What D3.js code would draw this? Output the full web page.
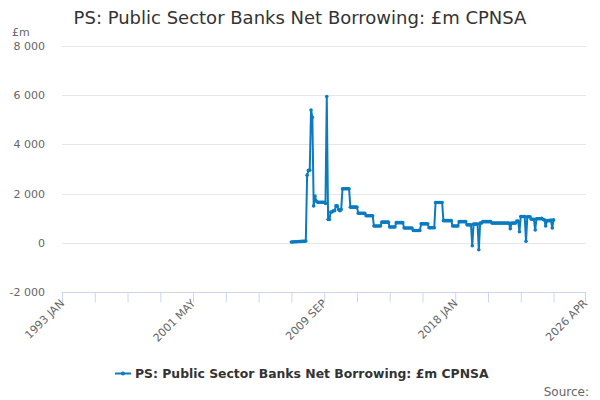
<!DOCTYPE html>
<html><head><meta charset="utf-8">
<script src="https://cdn.jsdelivr.net/npm/d3@7"></script>
<style>body{margin:0;background:#fff}svg{display:block}text{font-family:"DejaVu Sans",sans-serif}</style>
</head><body><svg id="c" width="600" height="400"></svg>
<script>
const title = "PS: Public Sector Banks Net Borrowing: £m CPNSA";
const seriesName = "PS: Public Sector Banks Net Borrowing: £m CPNSA";
const axisStart = {year: 1993, month: 0};   // 1993 JAN
const axisMonths = 399;                       // to 2026 APR
const dataStart = {year: 2007, month: 7};    // 2007 AUG
const monthNames = ["JAN","FEB","MAR","APR","MAY","JUN","JUL","AUG","SEP","OCT","NOV","DEC"];
const yTicks = [-2000, 0, 2000, 4000, 6000, 8000];
const xLabelIdx = [0, 100, 200, 300, 399];
const values = [
 30,30,40,40,40,50,50,50,60,60,60,70,
 2750,2950,2950,5400,5100,1500,1900,1700,
 1650,1650,1650,1650,1650,1650,1600,5950,950,950,
 1250,1250,1300,1300,1500,1500,1350,1300,1350,
 2200,2200,2200,2200,2200,2200,
 1450,1450,1450,1450,1450,1450,
 1200,1200,1200,1200,1200,1200,
 1100,1100,1100,1100,1100,1100,
 680,680,680,680,680,680,
 840,840,840,840,840,840,
 640,640,640,640,640,
 820,820,820,820,820,820,
 600,600,600,600,600,600,600,
 500,500,500,500,500,500,
 770,770,770,770,770,770,
 610,610,610,610,610,
 1640,1640,1640,1640,1640,1640,
 900,900,900,900,900,900,900,
 680,680,680,680,680,
 860,860,860,860,860,860,
 730,730,730,730,
 -120,
 760,760,760,760,
 -280,
 800,800,
 860,860,860,860,860,860,860,
 800,800,800,800,800,800,800,800,800,800,800,800,800,800,
 570,
 800,800,800,800,
 880,880,
 450,
 1070,1070,1070,1070,
 60,
 1060,1060,1060,
 960,960,960,
 520,
 980,980,980,980,
 1000,950,930,680,900,900,900,920,600,930
];

const svg = d3.select("#c");
const pLeft = 62, pRight = 585, pTop = 46, pBottom = 292;
const x = d3.scaleLinear().domain([0, axisMonths]).range([pLeft, pRight]);
const y = d3.scaleLinear().domain([-2000, 8000]).range([pBottom, pTop]);
const startIdx = (dataStart.year - axisStart.year) * 12 + (dataStart.month - axisStart.month);
const data = values.map((v, i) => ({i: startIdx + i, v}));
const labelOf = i => { const m = axisStart.month + i; return (axisStart.year + Math.floor(m / 12)) + " " + monthNames[m % 12]; };

svg.append("text").attr("x", 300).attr("y", 24).attr("text-anchor", "middle")
  .attr("font-size", 18).attr("fill", "#333").text(title);

// grid
svg.append("g").selectAll("line").data(yTicks.filter(t => t !== -2000)).join("line")
  .attr("x1", pLeft).attr("x2", pRight + 1).attr("y1", d => Math.round(y(d)) + 0.5).attr("y2", d => Math.round(y(d)) + 0.5)
  .attr("stroke", "#e6e6e6").attr("stroke-width", 1);

// y labels
svg.append("g").selectAll("text").data(yTicks).join("text")
  .attr("x", 45).attr("y", d => y(d) + 4).attr("text-anchor", "end")
  .attr("font-size", 11).attr("fill", "#666")
  .text(d => d3.format(",")(d).replace(/,/g, " ").replace("−", "-"));
svg.append("text").attr("x", 12).attr("y", 36).attr("font-size", 11).attr("fill", "#666").text("£m");

// x axis
const xAxis = d3.axisBottom(x)
  .tickValues(d3.range(0, axisMonths, 25).concat([axisMonths]))
  .tickSize(10).tickFormat("");
const gx = svg.append("g").attr("transform", `translate(0,${pBottom + 0.5})`).call(xAxis);
gx.select(".domain").attr("stroke", "#ccd6eb").attr("d", `M${pLeft},0H${pRight + 1}`);
gx.selectAll(".tick line").attr("stroke", "#ccd6eb");
svg.append("g").selectAll("text").data(xLabelIdx).join("text")
  .attr("text-anchor", "end").attr("font-size", 11).attr("fill", "#666")
  .attr("transform", d => `translate(${x(d) + 3},${pBottom + 12}) rotate(-45)`)
  .text(d => labelOf(d));

// series
const col = "#0a7bc1";
svg.append("path").datum(data)
  .attr("d", d3.line().x(d => x(d.i)).y(d => y(d.v)))
  .attr("fill", "none").attr("stroke", col).attr("stroke-width", 2).attr("stroke-linejoin", "round");
svg.append("g").selectAll("circle").data(data).join("circle")
  .attr("cx", d => x(d.i)).attr("cy", d => y(d.v)).attr("r", 1.8).attr("fill", col);

// legend
const lg = svg.append("g");
lg.append("line").attr("x1", 115).attr("x2", 131).attr("y1", 373.5).attr("y2", 373.5).attr("stroke", col).attr("stroke-width", 2);
lg.append("circle").attr("cx", 123).attr("cy", 373.5).attr("r", 2).attr("fill", col);
lg.append("text").attr("x", 135).attr("y", 378).attr("font-size", 12.4).attr("font-weight", "bold").attr("fill", "#333").text(seriesName);

svg.append("text").attr("x", 589).attr("y", 396).attr("text-anchor", "end").attr("font-size", 12).attr("fill", "#666").text("Source:");
</script></body></html>
